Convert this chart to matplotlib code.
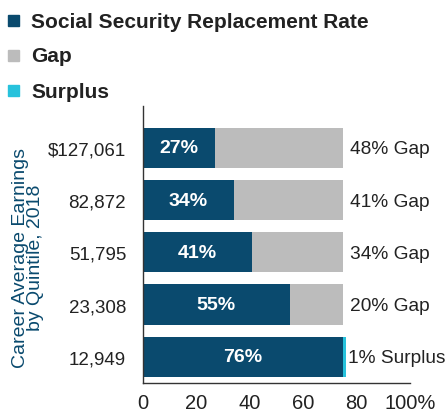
import matplotlib.pyplot as plt

plt.rcParams['font.family'] = ['Liberation Sans', 'DejaVu Sans']

# data, bottom to top
earnings = ['12,949', '23,308', '51,795', '82,872', '$127,061']
rate = [76, 55, 41, 34, 27]
gap = [0, 20, 34, 41, 48]
surplus = [1, 0, 0, 0, 0]
side_labels = ['1% Surplus', '20% Gap', '34% Gap', '41% Gap', '48% Gap']
x_ticks = [0, 20, 40, 60, 80, 100]
x_ticklabels = ['0', '20', '40', '60', '80', '100%']

dark = '#0a4a6e'
grey = '#bcbcbc'
cyan = '#27c2dc'

fig = plt.figure(figsize=(4.45, 4.14), dpi=100)
ax = fig.add_axes([0.321, 0.0725, 0.6, 0.669])

y = list(range(len(earnings)))
h = 0.77
base = [r - s for r, s in zip(rate, surplus)]
ax.barh(y, base, height=h, color=dark)
ax.barh(y, gap, left=rate, height=h, color=grey)
ax.barh(y, surplus, left=base, height=h, color=cyan)

for i in y:
    ax.text(base[i] / 2, i, f'{rate[i]}%', color='white', ha='center',
            va='center', fontsize=14, fontweight='bold')
    end = base[i] + gap[i] + surplus[i]
    pad = 0.8 if surplus[i] else 2.5
    ax.text(end + pad, i - 0.02, side_labels[i], ha='left', va='center',
            fontsize=13.8, color='#222222')

ax.set_xlim(0, 100)
ax.set_ylim(-0.5, 4.8)
ax.set_yticks(y)
ax.set_yticklabels(earnings, fontsize=13.5, color='#222222')
ax.set_xticks(x_ticks)
ax.set_xticklabels(x_ticklabels, fontsize=14.5, color='#222222')
ax.tick_params(length=0, pad=12)
ax.tick_params(axis='x', pad=7)
for s in ['top', 'right']:
    ax.spines[s].set_visible(False)
for s in ['left', 'bottom']:
    ax.spines[s].set_color('#333333')
    ax.spines[s].set_linewidth(1.0)

fig.text(0.063, 0.377, 'Career Average Earnings\nby Quintile, 2018', rotation=90,
         ha='center', va='center', fontsize=14, color='#0a4a6e',
         linespacing=0.9)

# legend
legend_items = [('Social Security Replacement Rate', dark), ('Gap', grey), ('Surplus', cyan)]
for k, (lab, col) in enumerate(legend_items):
    yy = 1 - (22 + 35 * k) / 414
    fig.patches.append(plt.Rectangle((8 / 445, yy - 5 / 414), 11 / 445, 11 / 414,
                                     transform=fig.transFigure, color=col))
    fig.text(31 / 445, yy, lab, ha='left', va='center', fontsize=15,
             fontweight='bold', color='#222222')

fig.savefig('out.png', dpi=100)
